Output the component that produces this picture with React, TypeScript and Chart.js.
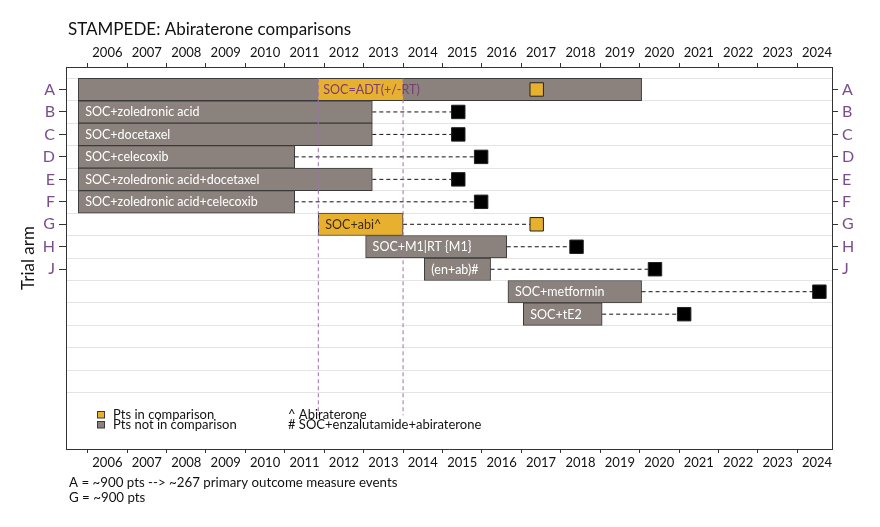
import React, { useEffect, useRef } from 'react';
import { Chart, registerables } from 'chart.js';

Chart.register(...registerables);

const FONT = 'Lato, "Open Sans", "DejaVu Sans", sans-serif';

// ---------- data ----------
const chartTitle = 'STAMPEDE: Abiraterone comparisons';
const yAxisTitle = 'Trial arm';
const yearLabels = [2006, 2007, 2008, 2009, 2010, 2011, 2012, 2013, 2014, 2015, 2016, 2017, 2018, 2019, 2020, 2021, 2022, 2023, 2024];
const rowLetters = ['A', 'B', 'C', 'D', 'E', 'F', 'G', 'H', 'J'];
const armNames = [
  '',
  'SOC+zoledronic acid',
  'SOC+docetaxel',
  'SOC+celecoxib',
  'SOC+zoledronic acid+docetaxel',
  'SOC+zoledronic acid+celecoxib',
  'SOC+abi^',
  'SOC+M1|RT {M1}',
  '(en+ab)#',
  'SOC+metformin',
  'SOC+tE2',
];
const armRows = [0, 1, 2, 3, 4, 5, 6, 7, 8, 9, 10];
const armStart = [2005.76, 2005.76, 2005.76, 2005.76, 2005.76, 2005.76, 2011.85, 2013.05, 2014.54, 2016.66, 2017.05];
const armEnd = [2020.05, 2013.22, 2013.22, 2011.25, 2013.22, 2011.25, 2014.0, 2016.63, 2016.22, 2020.05, 2019.05];
const armInComparison = [false, false, false, false, false, false, true, false, false, false, false];
const resultYear = [2017.39, 2015.4, 2015.4, 2015.98, 2015.4, 2015.98, 2017.39, 2018.4, 2020.39, 2024.56, 2021.13];
const resultInComparison = [true, false, false, false, false, false, true, false, false, false, false];
const comparisonLabel = 'SOC=ADT(+/-RT)';
const comparisonRow = 0;
const comparisonStart = 2011.85;
const comparisonEnd = 2014.0;
const comparisonLineSpan = [-0.5, 14.5];
const xRange = [2005.45, 2024.88];
const yRange = [-1, 16];
const gridRowCount = 15;
const legendLabels = ['Pts in comparison', 'Pts not in comparison'];
const noteLabels = ['^ Abiraterone', '# SOC+enzalutamide+abiraterone'];
const footnotes = ['A = ~900 pts --> ~267 primary outcome measure events', 'G = ~900 pts'];

// ---------- styles ----------
const YELLOW = '#e8b02f';
const GRAY = '#8b827d';
const EDGE = '#3a3a3a';
const LETTER = '#7b4d8e';
const WINDOW_LINE = '#9c70b0';
const ADT_TEXT = '#7a3d72';
const AXIS = '#333333';

const annotationPlugin = {
  id: 'annotations',
  afterDatasetsDraw(chart: any) {
    const { ctx } = chart;
    ctx.save();
    ctx.textBaseline = 'middle';
    ctx.textAlign = 'left';
    ctx.font = `12.5px ${FONT}`;
    const barMeta = chart.getDatasetMeta(0);
    barMeta.data.forEach((el: any, i: number) => {
      const name = armNames[i];
      if (!name) return;
      const left = Math.min(el.x, el.base);
      ctx.fillStyle = armInComparison[i] ? '#3d2b12' : '#ffffff';
      ctx.fillText(name, left + 7, el.y + 0.5);
    });
    const segMeta = chart.getDatasetMeta(1);
    segMeta.data.forEach((el: any) => {
      const left = Math.min(el.x, el.base);
      ctx.fillStyle = ADT_TEXT;
      ctx.fillText(comparisonLabel, left + 5, el.y + 0.5);
    });
    ctx.restore();
  },
  afterDraw(chart: any) {
    const { ctx, chartArea } = chart;
    ctx.save();
    ctx.textAlign = 'left';
    ctx.textBaseline = 'alphabetic';
    // title
    ctx.fillStyle = '#111';
    ctx.font = `17px ${FONT}`;
    ctx.fillText(chartTitle, chartArea.left + 2, chartArea.top - 32);
    // legend
    ctx.font = `13px ${FONT}`;
    const legendColors = [YELLOW, GRAY];
    legendLabels.forEach((lab, i) => {
      const base = chartArea.bottom - 30 + i * 10;
      ctx.fillStyle = legendColors[i];
      ctx.strokeStyle = EDGE;
      ctx.lineWidth = 1;
      ctx.fillRect(chartArea.left + 31.5, base - 7.5, 7, 6.5);
      ctx.strokeRect(chartArea.left + 31.5, base - 7.5, 7, 6.5);
      ctx.fillStyle = '#111';
      ctx.fillText(lab, chartArea.left + 47, base);
    });
    noteLabels.forEach((lab, i) => {
      const base = chartArea.bottom - 30 + i * 10;
      ctx.fillStyle = '#111';
      ctx.fillText(lab, chartArea.left + 222, base);
    });
    // footnotes
    ctx.font = `13.3px ${FONT}`;
    footnotes.forEach((lab, i) => {
      ctx.fillText(lab, chartArea.left + 3, chartArea.bottom + 38 + i * 15);
    });
    ctx.restore();
  },
};

export default function App() {
  const canvasRef = useRef<HTMLCanvasElement | null>(null);

  useEffect(() => {
    const canvas = canvasRef.current;
    if (!canvas) return;

    const connectorSets = armRows
      .filter((i) => resultYear[i] > armEnd[i])
      .map((i) => ({
        type: 'line' as const,
        data: [
          { x: armEnd[i], y: i },
          { x: resultYear[i], y: i },
        ],
        borderColor: '#111111',
        borderWidth: 1,
        borderDash: [4, 3],
        pointRadius: 0,
        fill: false,
        order: 3,
      }));

    const windowSets = [comparisonStart, comparisonEnd].map((x) => ({
      type: 'line' as const,
      data: [
        { x, y: comparisonLineSpan[0] },
        { x, y: comparisonLineSpan[1] },
      ],
      borderColor: WINDOW_LINE,
      borderWidth: 1,
      borderDash: [4, 3],
      pointRadius: 0,
      fill: false,
      order: 2,
    }));

    const gridValues: number[] = [];
    for (let k = 0; k < gridRowCount; k++) gridValues.push(k - 0.5);

    const xAxisBase = (position: 'top' | 'bottom') => ({
      type: 'linear' as const,
      position,
      min: xRange[0],
      max: xRange[1],
      bounds: 'data' as const,
      beginAtZero: false,
      afterBuildTicks: (s: any) => {
        s.ticks = yearLabels.map((y) => ({ value: y + 0.5 }));
      },
      afterFit: (s: any) => {
        s.height = 20;
      },
      ticks: {
        autoSkip: false,
        maxRotation: 0,
        padding: 2,
        color: '#111',
        font: { family: FONT, size: 13 },
        callback: (v: any) => String(Math.floor(Number(v))),
      },
      grid: {
        offset: true,
        drawOnChartArea: false,
        tickLength: 4,
        color: AXIS,
        tickColor: AXIS,
      },
      border: { display: true, color: AXIS, width: 1 },
    });

    const yAxisBase = (position: 'left' | 'right', width: number, tickLength: number) => ({
      type: 'linear' as const,
      position,
      min: yRange[0],
      max: yRange[1],
      reverse: true,
      offset: false,
      bounds: 'data' as const,
      beginAtZero: false,
      afterBuildTicks: (s: any) => {
        s.ticks = rowLetters.map((_, i) => ({ value: i }));
      },
      afterFit: (s: any) => {
        s.width = width;
      },
      ticks: {
        autoSkip: false,
        padding: 4,
        color: LETTER,
        font: { family: FONT, size: 16 },
        callback: (v: any) => rowLetters[Number(v)] ?? '',
      },
      grid: {
        offset: false,
        drawOnChartArea: false,
        tickLength,
        color: AXIS,
        tickColor: AXIS,
      },
      border: { display: true, color: AXIS, width: 1 },
    });

    const chart = new Chart(canvas, {
      type: 'bar',
      data: {
        datasets: [
          {
            type: 'bar',
            data: armRows.map((i) => ({ y: i, x: [armStart[i], armEnd[i]] })) as any,
            backgroundColor: armInComparison.map((c) => (c ? YELLOW : GRAY)),
            borderColor: EDGE,
            borderWidth: 1,
            borderSkipped: false,
            grouped: false,
            barPercentage: 1,
            categoryPercentage: 1,
            xAxisID: 'x',
            yAxisID: 'y',
            order: 6,
          } as any,
          {
            type: 'bar',
            data: [{ y: comparisonRow, x: [comparisonStart, comparisonEnd] }] as any,
            backgroundColor: YELLOW,
            borderColor: EDGE,
            borderWidth: { top: 1, bottom: 1, left: 0, right: 0 },
            borderSkipped: false,
            grouped: false,
            barPercentage: 1,
            categoryPercentage: 1,
            xAxisID: 'x',
            yAxisID: 'y',
            order: 5,
          } as any,
          ...(connectorSets as any[]),
          ...(windowSets as any[]),
          {
            type: 'scatter',
            data: resultYear.map((x, i) => ({ x, y: armRows[i] })),
            pointStyle: 'rect',
            pointRadius: 9.5,
            pointHoverRadius: 9.5,
            pointBackgroundColor: resultInComparison.map((c) => (c ? YELLOW : '#000000')),
            pointBorderColor: '#222222',
            pointBorderWidth: 1,
            showLine: false,
            order: 1,
          } as any,
        ],
      },
      options: {
        indexAxis: 'y',
        animation: false,
        responsive: true,
        maintainAspectRatio: false,
        devicePixelRatio: 1,
        events: [],
        layout: { padding: { top: 47, bottom: 58, left: 0, right: 0 } },
        plugins: {
          legend: { display: false },
          tooltip: { enabled: false },
          title: { display: false },
        },
        scales: {
          x: xAxisBase('top') as any,
          x2: xAxisBase('bottom') as any,
          y: {
            ...yAxisBase('left', 66, 7),
            title: {
              display: true,
              text: yAxisTitle,
              color: '#111',
              font: { family: FONT, size: 17 },
              padding: { top: 18, bottom: 0 },
            },
          } as any,
          y2: yAxisBase('right', 48, 6) as any,
          yg: {
            type: 'linear',
            position: 'left',
            min: yRange[0],
            max: yRange[1],
            reverse: true,
            offset: false,
            bounds: 'data',
            afterBuildTicks: (s: any) => {
              s.ticks = gridValues.map((v) => ({ value: v }));
            },
            afterFit: (s: any) => {
              s.width = 0;
            },
            ticks: { display: false },
            grid: {
              offset: false,
              drawOnChartArea: true,
              drawTicks: false,
              color: '#e4e4e4',
              lineWidth: 1,
            },
            border: { display: false },
          } as any,
        },
      },
      plugins: [annotationPlugin],
    });

    return () => {
      chart.destroy();
    };
  }, []);

  return (
    <div style={{ position: 'fixed', left: 0, top: 0, width: 880, height: 527, background: '#fff' }}>
      <canvas ref={canvasRef} />
    </div>
  );
}
